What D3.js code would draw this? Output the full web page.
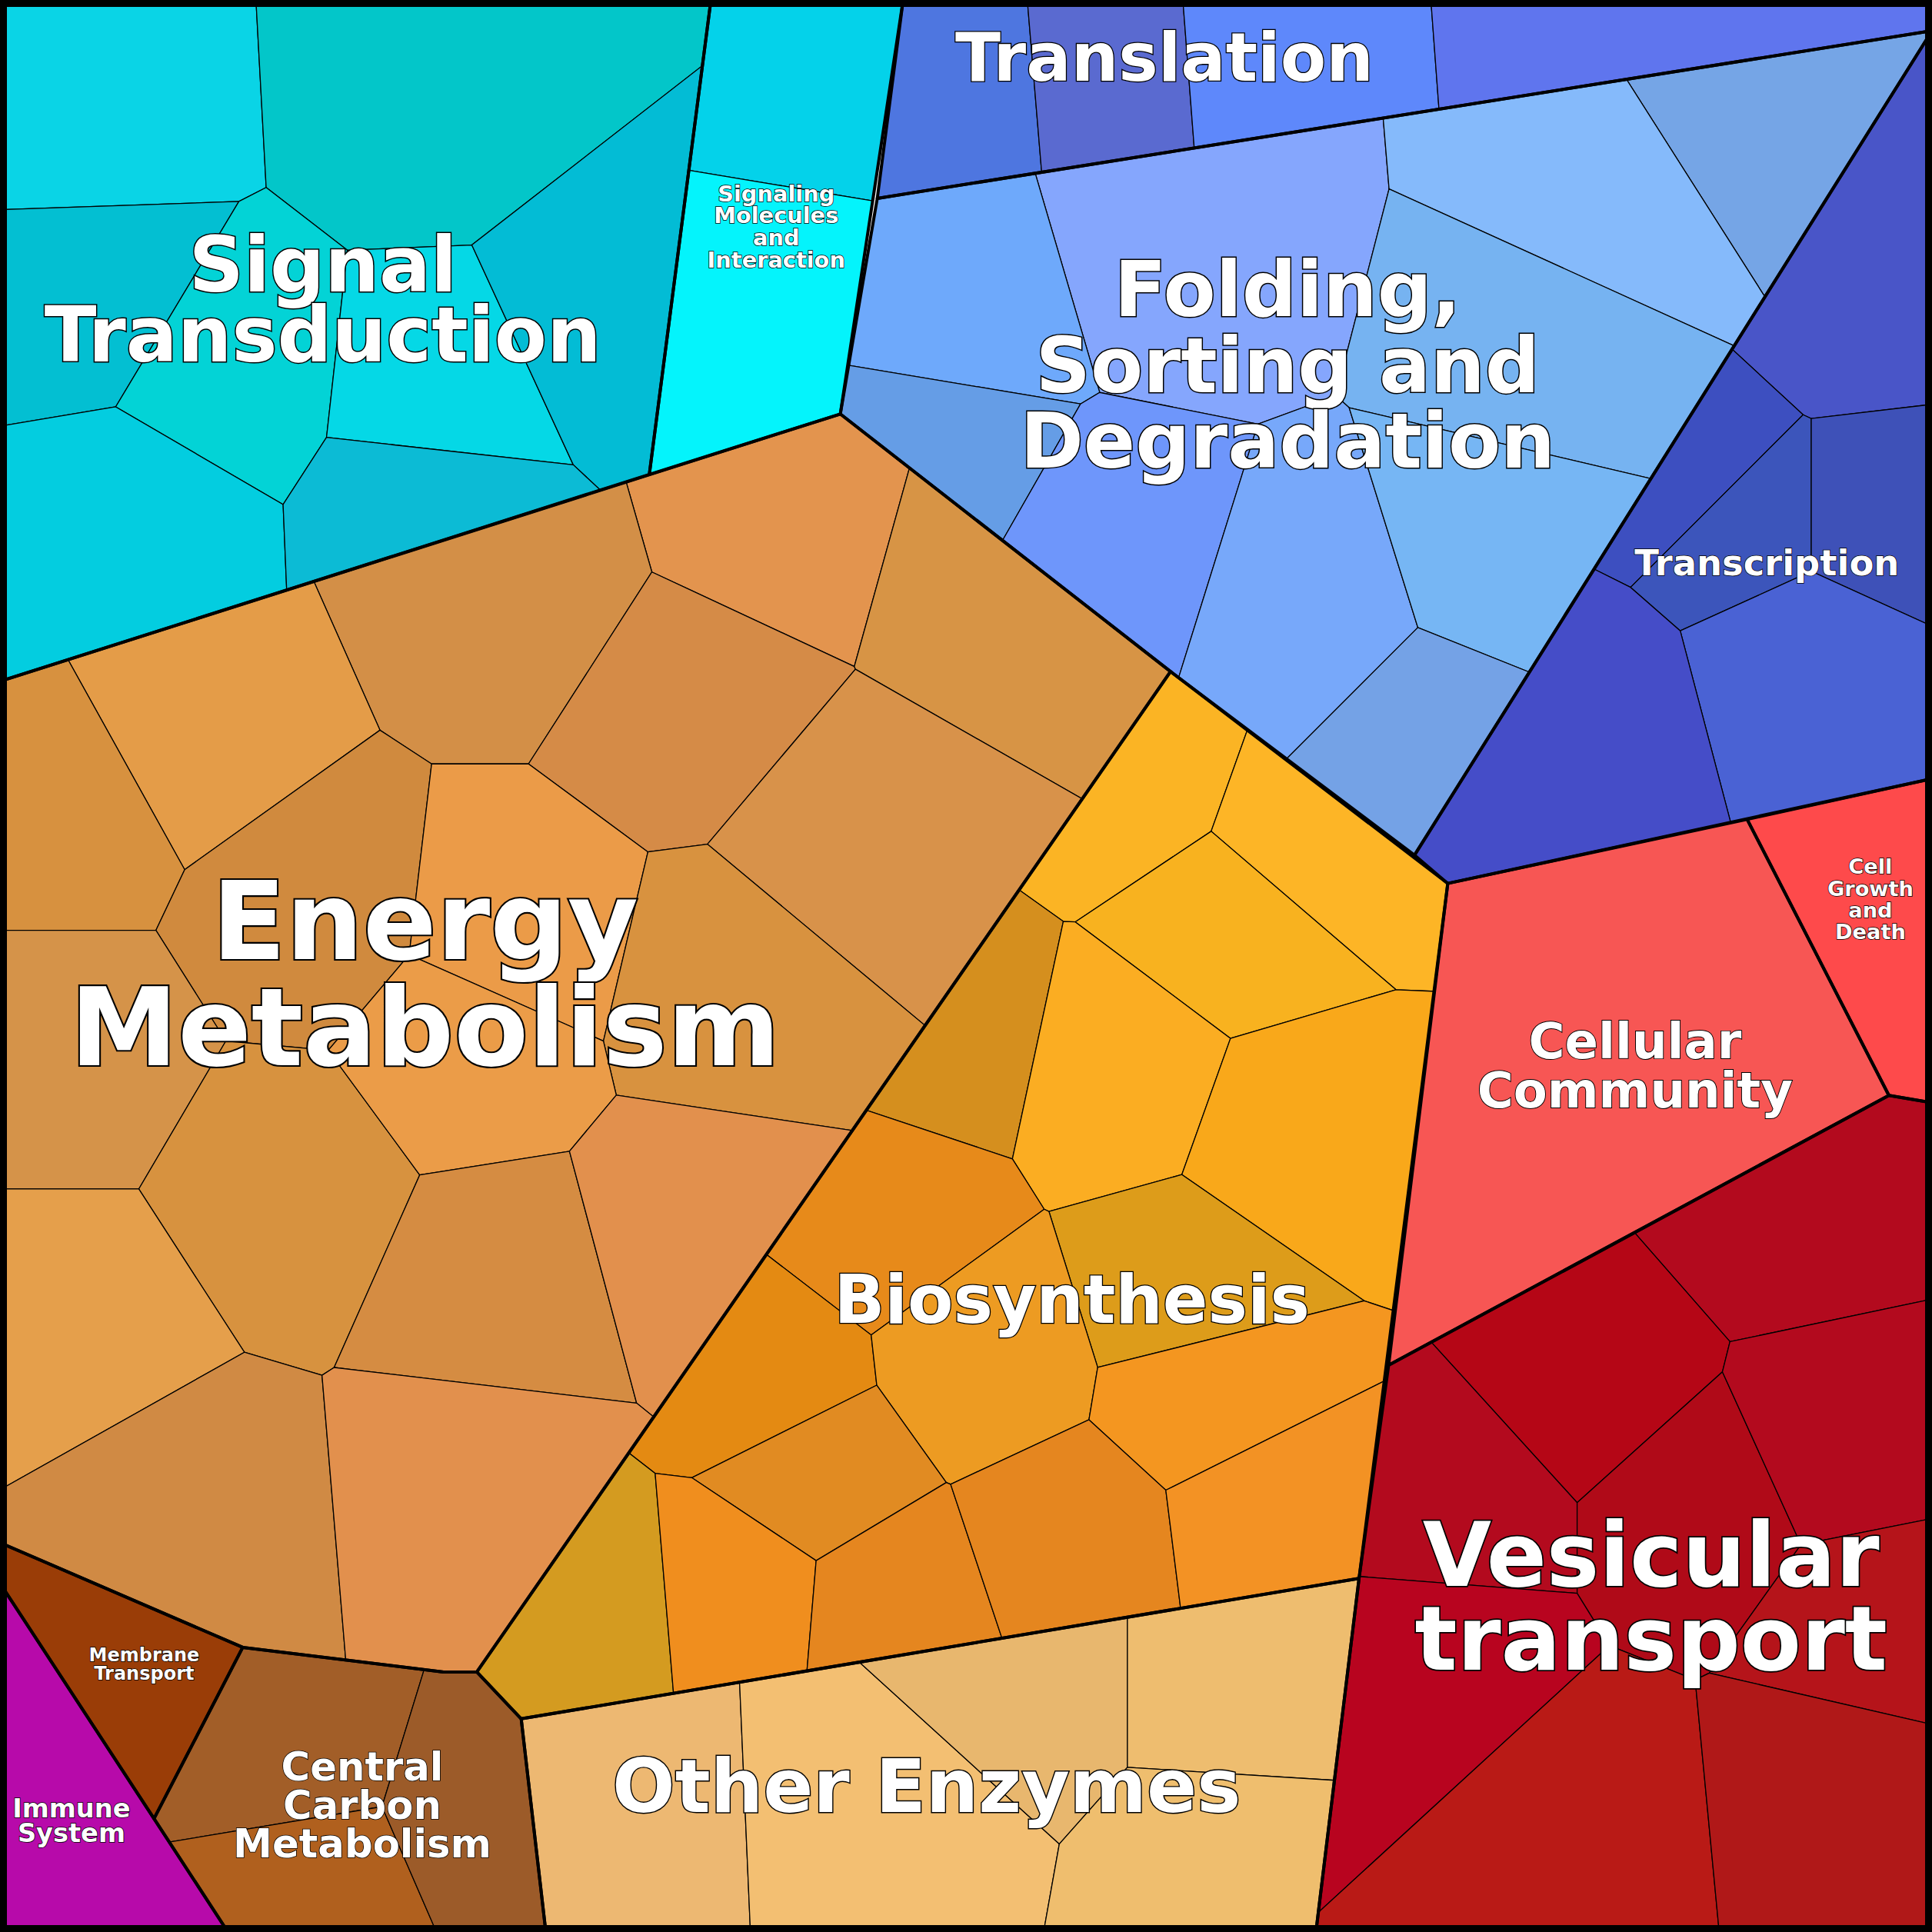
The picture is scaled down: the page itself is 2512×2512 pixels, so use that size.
<!DOCTYPE html>
<html><head><meta charset="utf-8">
<script src="https://cdn.jsdelivr.net/npm/d3@7"></script>
<style>body{margin:0;background:#fff}</style></head>
<body><svg id="c" width="2512" height="2512"></svg>
<script>
// Group polygons (reference units 0..1568)
const groupNames = ["Signal Transduction","Signaling Molecules","Energy Metabolism","Membrane Transport","Immune System","Central Carbon","Biosynthesis","Other Enzymes","Cellular Community","Cell Growth","Vesicular","Translation","Folding","Transcription"];
const groupPolys = [
 [[0,0],[577,0],[527,385],[0,553]],
 [[577,0],[733,0],[682,336],[527,385]],
 [[0,553],[682,336],[950,545],[387,1357],[360,1357],[197,1337],[0,1252]],
 [[0,1252],[197,1337],[125,1476],[0,1285]],
 [[0,1285],[125,1476],[185,1568],[0,1568]],
 [[197,1337],[360,1357],[387,1357],[423,1395],[443,1568],[185,1568],[125,1476]],
 [[950,545],[1175,717],[1103,1281],[423,1395],[387,1357]],
 [[423,1395],[1103,1281],[1068,1568],[443,1568]],
 [[1175,717],[1418,665],[1533,889],[1127,1108]],
 [[1418,665],[1568,632],[1568,895],[1533,889]],
 [[1127,1108],[1533,889],[1568,895],[1568,1568],[1068,1568],[1103,1281]],
 [[733,0],[1568,0],[1568,25],[712,161]],
 [[712,161],[1568,25],[1148,694],[950,545],[682,336]],
 [[1568,25],[1568,632],[1175,717],[1148,694]]
];
// Cell sites per group
const groupSites = [
 [[75,95],[350,80],[80,240],[180,300],[360,320],[490,260],[110,420],[350,410]],
 [[645,60],[615,240]],
 [[630,420],[420,480],[560,570],[810,470],[150,600],[60,650],[250,740],[420,760],[690,680],[60,860],[230,960],[590,800],[380,850],[60,1070],[410,1040],[560,1000],[150,1230],[390,1210]],
 [[100,1350]],
 [[60,1480]],
 [[250,1430],[265,1520],[380,1470]],
 [[920,630],[1060,680],[1000,750],[770,840],[910,870],[1050,920],[960,1050],[720,990],[620,1120],[800,1100],[980,1130],[660,1200],[480,1300],[600,1290],[720,1300],[870,1250],[1030,1230]],
 [[490,1480],[720,1470],[820,1360],[1010,1360],[1000,1520]],
 [[1300,850]],
 [[1510,760]],
 [[1450,980],[1290,1120],[1180,1220],[1380,1220],[1490,1170],[1170,1350],[1520,1320],[1280,1470],[1490,1450]],
 [[780,80],[900,70],[1030,60],[1300,40]],
 [[950,200],[1420,100],[1310,170],[1260,280],[780,250],[760,370],[900,450],[1060,500],[1220,450],[1160,600]],
 [[1500,250],[1380,380],[1420,420],[1520,420],[1470,530],[1280,580]]
];
const groupColors = [
 ["#0ad4e6","#03c6c9","#03bfd2","#03d3d6","#05d8e6","#03bcd5","#03cde0","#0cbbd5"],
 ["#04d2ea","#04f4fc"],
 ["#e3944e","#d38f47","#d58b47","#d79445","#e49c48","#d7913f","#d08a3e","#eb9b48","#d8924a","#d59349","#d7923f","#d8923f","#eb9c48","#e59f4b","#d58c42","#e2904d","#d08a44","#e2904d"],
 ["#9a3d07"],
 ["#b70aaa"],
 ["#a25e28","#b0601e","#9c5b29"],
 ["#fbb424","#fdb526","#f8b21f","#d58f1e","#fbad22","#f9a81a","#dd9c1a","#e78a1a","#e48a12","#ed9b22","#f49620","#e18b22","#d49b20","#f08e1e","#e5861f","#e5861f","#f39224"],
 ["#edb872","#f3bf72","#e8b76e","#eebd6f","#efbe6e"],
 ["#f75654"],
 ["#fe4a4b"],
 ["#b30a1e","#b50616","#b30a1e","#b00a18","#b30a1e","#b8041f","#b5141a","#b91a16","#b01818"],
 ["#4e76e0","#5a6ad0","#5e88fb","#5f75ee"],
 ["#85a6fd","#75a5e6","#85bafb","#76b3f1","#6ea9fb","#659de6","#6e96fb","#77a8fa","#76b6f4","#74a2e6"],
 ["#4955c8","#3d4fc0","#3c55bb","#3e51b8","#4a62d4","#454dc8"]
];
const labelLines = [["Signal","Transduction"],["Signaling","Molecules","and","Interaction"],["Energy","Metabolism"],["Membrane","Transport"],["Immune","System"],["Central","Carbon","Metabolism"],["Biosynthesis"],["Other Enzymes"],["Cellular","Community"],["Cell","Growth","and","Death"],["Vesicular","transport"],["Translation"],["Folding,","Sorting and","Degradation"],["Transcription"]];
const labelX = [262,630,345,117,58,294,870,752,1327,1518,1340,945,1045,1434];
const labelY = [[215,272],[157,175,193,211],[748,834],[1343,1358],[1468,1488],[1434,1465,1496],[1055],[1450],[845,885],[703,721,739,756],[1262,1330],[47],[235,297,358],[457]];
const labelSize = [62,18,88,15,21,32,54,60,40,17,72,54,62,29];

const x = d3.scaleLinear().domain([0,1568]).range([0,2512]);
const y = d3.scaleLinear().domain([0,1568]).range([0,2512]);
const k = 2512/1568;
const svg = d3.select("#c");
const defs = svg.append("defs");
const toPx = p => p.map(([a,b])=>[x(a),y(b)]);
const line = d3.line().curve(d3.curveLinearClosed);

groupPolys.forEach((poly,gi)=>{
  const pp = toPx(poly);
  defs.append("clipPath").attr("id","g"+gi).append("path").attr("d",line(pp));
  const g = svg.append("g").attr("clip-path","url(#g"+gi+")");
  const sites = toPx(groupSites[gi]);
  if (sites.length===1){
    g.append("path").attr("d",line(pp)).attr("fill",groupColors[gi][0]);
  } else {
    const vor = d3.Delaunay.from(sites).voronoi([0,0,2512,2512]);
    sites.forEach((s,i)=>{
      g.append("path").attr("d",vor.renderCell(i)).attr("fill",groupColors[gi][i])
       .attr("stroke","#000").attr("stroke-width",1.3);
    });
  }
});
groupPolys.forEach(poly=>{
  svg.append("path").attr("d",line(toPx(poly))).attr("fill","none")
    .attr("stroke","#000").attr("stroke-width",4).attr("stroke-linejoin","round");
});
svg.append("rect").attr("x",0).attr("y",0).attr("width",2512).attr("height",2512)
  .attr("fill","none").attr("stroke","#000").attr("stroke-width",18);

labelLines.forEach((lines,i)=>{
  lines.forEach((t,j)=>{
    svg.append("text").attr("x",x(labelX[i])).attr("y",y(labelY[i][j]))
      .attr("text-anchor","middle").attr("dominant-baseline","central")
      .attr("font-family","DejaVu Sans").attr("font-weight","bold")
      .attr("font-size",labelSize[i]*k).attr("fill","#fff")
      .attr("stroke","#000").attr("stroke-width",Math.max(1.5,labelSize[i]*k*0.03))
      .attr("paint-order","stroke").text(t);
  });
});
</script></body></html>
